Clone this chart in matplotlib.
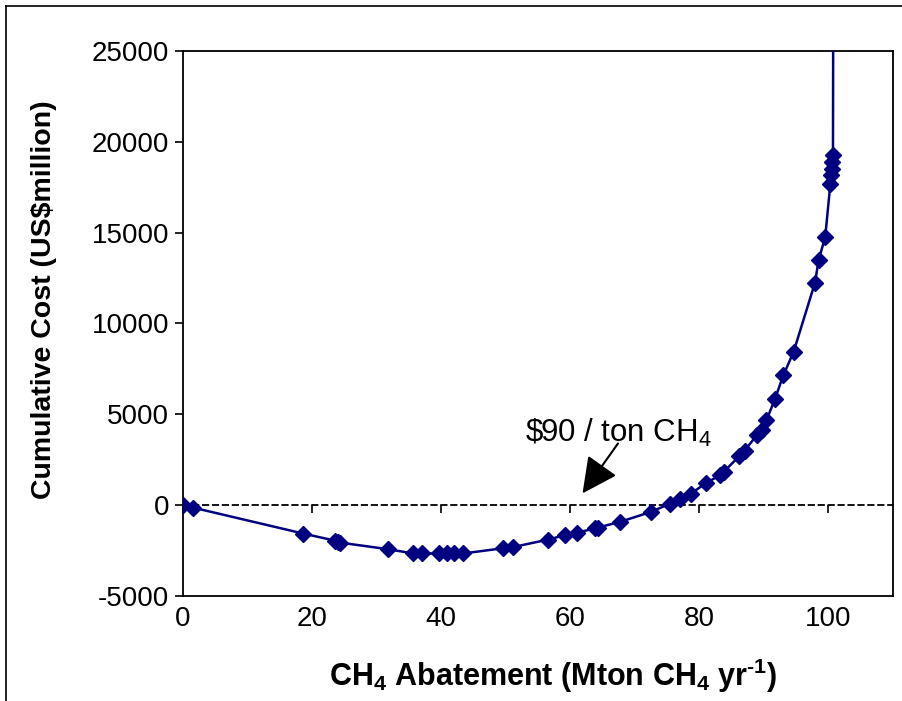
import matplotlib
matplotlib.use("Agg")
import matplotlib.pyplot as plt
from matplotlib.lines import Line2D

plt.rcParams['font.family'] = ['Liberation Sans', 'DejaVu Sans']
plt.rcParams['mathtext.default'] = 'regular'
plt.rcParams['axes.unicode_minus'] = False

# Data
abatement = [0.0, 1.5, 18.6, 23.5, 24.0, 24.3, 31.7, 35.7, 37.0, 39.7, 40.9, 42.0, 43.4,
             49.6, 51.1, 56.6, 59.2, 61.0, 63.8, 64.3, 67.7, 72.5, 75.5, 77.0, 78.7,
             81.1, 83.2, 83.8, 86.2, 87.0, 88.9, 89.7, 90.4, 91.7, 93.0, 94.6,
             97.9, 98.5, 99.5, 100.3, 100.4, 100.5, 100.6, 100.7, 100.8]
cum_cost = [0, -130, -1560, -1950, -2000, -2060, -2420, -2660, -2660, -2660, -2660, -2660, -2660,
            -2370, -2310, -1890, -1650, -1520, -1280, -1230, -920, -370, 90, 330, 640,
            1230, 1650, 1850, 2700, 3000, 3850, 4130, 4680, 5830, 7140, 8440,
            12230, 13520, 14770, 17700, 18150, 18520, 18900, 19260, 40000]

xticks = [0, 20, 40, 60, 80, 100]
yticks = [-5000, 0, 5000, 10000, 15000, 20000, 25000]
xlim = (0, 110)
ylim = (-5000, 25000)

navy = '#000080'

fig = plt.figure(figsize=(9.02, 7.01), dpi=100)
ax = fig.add_axes([183/902, 1-596/701, (893-183)/902, (596-51)/701])

ax.plot(abatement[:-1], cum_cost[:-1], color=navy, lw=1.8, marker='D', ms=8.5,
        markerfacecolor=navy, markeredgecolor=navy, zorder=3)
ax.plot(abatement[-2:], cum_cost[-2:], color=navy, lw=1.8, zorder=3)

ax.set_xlim(*xlim)
ax.set_ylim(*ylim)
ax.set_xticks(xticks)
ax.set_yticks(yticks)

for s in ax.spines.values():
    s.set_linewidth(1.3)
    s.set_color('black')

ax.tick_params(axis='x', length=0, labelsize=20, pad=7)
ax.tick_params(axis='y', length=6, width=1.2, direction='out', labelsize=20, pad=4)

# x-axis crossing at y = 0 (dashed), with ticks below it
loc = (0 - ylim[0]) / (ylim[1] - ylim[0])
sec = ax.secondary_xaxis(loc)
sec.set_xticks(xticks)
sec.tick_params(axis='x', length=6, width=1.2, direction='out', labelbottom=False,
                labeltop=False)
for name, sp in sec.spines.items():
    sp.set_linestyle((0, (3, 2.5)))
    sp.set_linewidth(1.3)

ax.set_xlabel('CH$_4$ Abatement (Mton CH$_4$ yr$^{\u20101}$)', fontsize=22,
              fontweight='bold')
ax.xaxis.set_label_coords((553-183)/710, (596-657)/545)
ax.set_ylabel('Cumulative Cost (US$million)', fontsize=20.5, fontweight='bold')
ax.yaxis.set_label_coords((57-183)/710, (596-300)/545)

ax.text(53.0, 4000, r'\$90 / ton CH$_4$', fontsize=22.5, ha='left', va='center')
ax.annotate('', xy=(61.9, 650), xytext=(67.4, 3400),
            arrowprops=dict(arrowstyle='-|>,head_length=1.1,head_width=0.55',
                            color='black', lw=1.5, mutation_scale=20, shrinkA=0, shrinkB=0))

# outer frame (top and left edges visible)
fig.add_artist(Line2D([6/902, 1.01], [1-6/701, 1-6/701], color='black', lw=1.2,
                      transform=fig.transFigure))
fig.add_artist(Line2D([6/902, 6/902], [-0.01, 1-6/701], color='black', lw=1.2,
                      transform=fig.transFigure))

fig.savefig('out.png', dpi=100)
